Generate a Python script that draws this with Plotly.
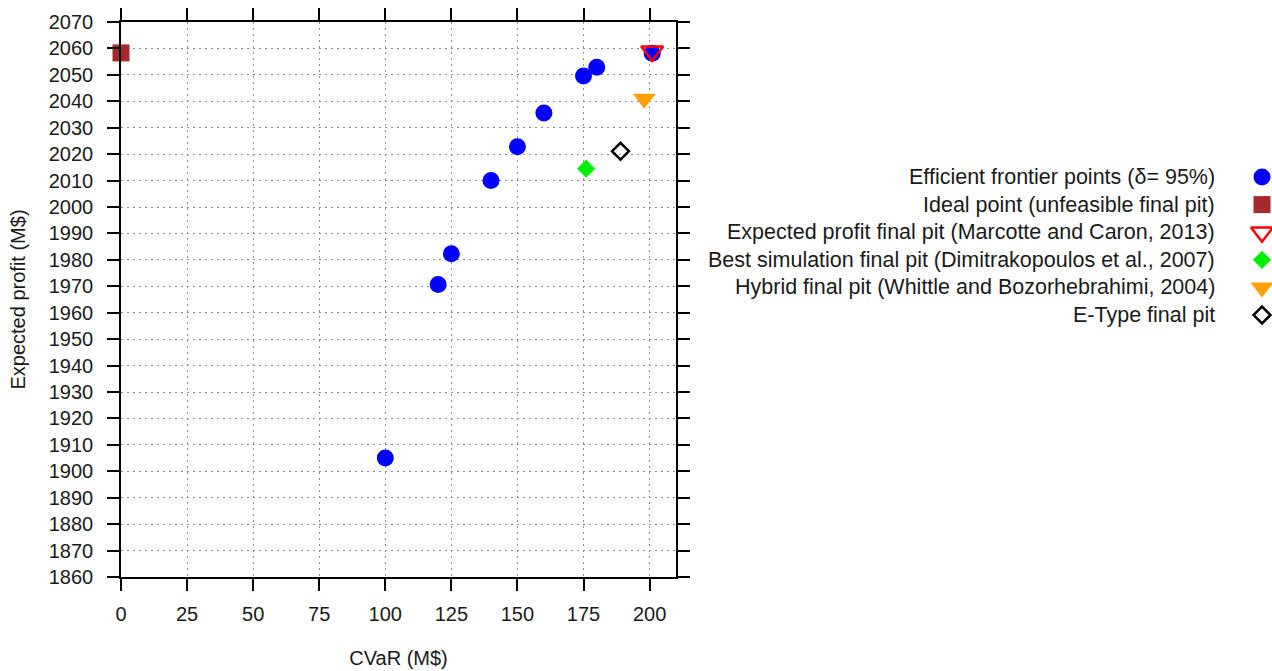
import plotly.graph_objects as go

# ---------------- data ----------------
frontier_cvar = [100, 120, 125, 140, 150, 160, 175, 180, 201]
frontier_profit = [1905, 1970.7, 1982.3, 2010, 2022.8, 2035.6, 2049.6, 2052.9, 2058.2]

ideal_cvar = [0]
ideal_profit = [2058.3]

expected_cvar = [201]
expected_profit = [2058.9]

best_sim_cvar = [176]
best_sim_profit = [2014.5]

hybrid_cvar = [198]
hybrid_profit = [2041]

etype_cvar = [189]
etype_profit = [2021.1]

series_names = [
    "Efficient frontier points (δ= 95%)",
    "Ideal point (unfeasible final pit)",
    "Expected profit final pit (Marcotte and Caron, 2013)",
    "Best simulation final pit (Dimitrakopoulos et al., 2007)",
    "Hybrid final pit (Whittle and Bozorhebrahimi, 2004)",
    "E-Type final pit",
]

x_ticks = [0, 25, 50, 75, 100, 125, 150, 175, 200]
y_ticks = list(range(1860, 2071, 10))

# ---------------- styles ----------------
W, H = 1272, 671
PL, PR, PT, PB = 121, 676, 22, 577  # plot area pixels
FONT = "Liberation Sans"
TXT = "#1a1a1a"

styles = [
    dict(symbol="circle", size=17, color="#0000ff", line=dict(width=0)),
    dict(symbol="square", size=17, color="#a52a2a", line=dict(width=0)),
    dict(symbol="triangle-down-open", size=19, color="#ff0000", line=dict(width=2.5, color="#ff0000")),
    dict(symbol="diamond", size=14, color="#00ee00", line=dict(width=0)),
    dict(symbol="triangle-down", size=20, color="#ffa000", line=dict(width=0)),
    dict(symbol="diamond-open", size=13, color="#000000", line=dict(width=2.5, color="#000000")),
]

series = [
    (frontier_cvar, frontier_profit),
    (ideal_cvar, ideal_profit),
    (expected_cvar, expected_profit),
    (best_sim_cvar, best_sim_profit),
    (hybrid_cvar, hybrid_profit),
    (etype_cvar, etype_profit),
]

fig = go.Figure()

draw_order = [0, 1, 3, 4, 5, 2]
for i in draw_order:
    xs, ys = series[i]
    st = styles[i]
    fig.add_trace(go.Scatter(
        x=xs, y=ys, mode="markers", name=series_names[i],
        marker=dict(symbol=st["symbol"], size=st["size"], color=st["color"], line=st["line"]),
        cliponaxis=False, showlegend=False, xaxis="x", yaxis="y",
    ))

# custom gnuplot-style key (text right aligned, symbol on the right)
key_text_x = 1217
key_mark_x = 1262
key_y0 = 177
key_dy = 27.6
for i, name in enumerate(series_names):
    st = styles[i]
    ky = key_y0 + i * key_dy
    fig.add_trace(go.Scatter(
        x=[key_mark_x], y=[ky], mode="markers",
        marker=dict(symbol=st["symbol"], size=st["size"], color=st["color"], line=st["line"]),
        cliponaxis=False, showlegend=False, xaxis="x2", yaxis="y2", hoverinfo="skip",
    ))
    fig.add_annotation(
        x=key_text_x, y=ky, xref="x2", yref="y2", text=name, showarrow=False,
        xanchor="right", yanchor="middle", font=dict(family=FONT, size=21.5, color=TXT),
    )

axis_common = dict(
    showline=True, linecolor="#000000", linewidth=1.5, mirror="ticks",
    ticks="outside", ticklen=12, tickwidth=1.5, tickcolor="#000000",
    showgrid=True, gridcolor="#909090", gridwidth=1, griddash="2px,4px",
    zeroline=False, tickfont=dict(family=FONT, size=20, color=TXT),
    automargin=False,
)

fig.update_layout(
    width=W, height=H,
    margin=dict(l=0, r=0, t=PT, b=H - PB),
    paper_bgcolor="white", plot_bgcolor="rgba(0,0,0,0)",
    showlegend=False,
    xaxis=dict(
        axis_common, domain=[PL / W, PR / W], range=[0, 210],
        tickvals=x_ticks, ticktext=[str(v) for v in x_ticks],
        ticklabelstandoff=6,
        title=dict(text="CVaR (M$)", font=dict(family=FONT, size=20, color=TXT), standoff=27),
        anchor="y",
    ),
    yaxis=dict(
        axis_common, domain=[0, 1], range=[1860, 2070],
        tickvals=y_ticks, ticktext=[str(v) for v in y_ticks],
        ticklabelstandoff=10,
        title=dict(text="Expected profit (M$)", font=dict(family=FONT, size=20, color=TXT), standoff=18),
        anchor="x",
    ),
    xaxis2=dict(domain=[0, 1], range=[0, W], visible=False, anchor="y2", fixedrange=True),
    yaxis2=dict(domain=[0, 1], range=[PB, PT], visible=False, anchor="x2", fixedrange=True),
)

fig.write_html("out.html")
